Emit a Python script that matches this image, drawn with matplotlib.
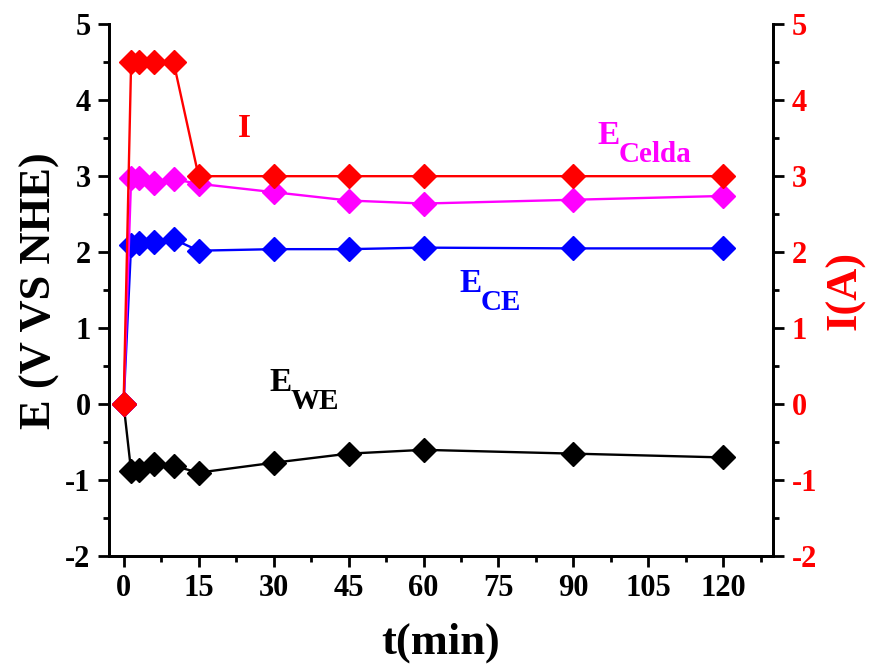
import matplotlib
matplotlib.use("Agg")
import matplotlib.pyplot as plt
from matplotlib.ticker import MultipleLocator

# ---- data ----
t_min = [0, 1.5, 3, 6, 10, 15, 30, 45, 60, 90, 120]
E_WE = [0, -0.88, -0.87, -0.78, -0.81, -0.90, -0.77, -0.65, -0.60, -0.65, -0.70]
E_CE = [0, 2.10, 2.12, 2.14, 2.17, 2.02, 2.04, 2.04, 2.06, 2.05, 2.05]
E_Celda = [0, 2.98, 2.98, 2.91, 2.96, 2.90, 2.79, 2.68, 2.64, 2.69, 2.74]
I_A = [0, 4.5, 4.5, 4.5, 4.5, 3.0, 3.0, 3.0, 3.0, 3.0, 3.0]

x_ticks = [0, 15, 30, 45, 60, 75, 90, 105, 120]
y_ticks = [-2, -1, 0, 1, 2, 3, 4, 5]

plt.rcParams['font.family'] = ['Liberation Serif', 'DejaVu Serif']
plt.rcParams['font.weight'] = 'bold'
plt.rcParams['axes.unicode_minus'] = False

fig = plt.figure(figsize=(8.69, 6.71), dpi=100)
ax = fig.add_axes([0.125, 0.171, 0.765, 0.793])
ax2 = ax.twinx()

lw = 1.7
ms = 12.5
ax.plot(t_min, E_WE, color='black', marker='D', ms=ms, lw=lw, zorder=3)
ax.plot(t_min, E_CE, color='#0000ff', marker='D', ms=ms, lw=lw, zorder=4)
ax.plot(t_min, E_Celda, color='#ff00ff', marker='D', ms=ms, lw=lw, zorder=5)
ax2.plot(t_min, I_A, color='#ff0000', marker='D', ms=ms, lw=lw, zorder=6)

for a in (ax, ax2):
    a.set_xlim(-3, 130)
    a.set_ylim(-2, 5)
    a.spines['top'].set_visible(False)
    for s in a.spines.values():
        s.set_linewidth(2)

ax.set_xticks(x_ticks)
ax.xaxis.set_minor_locator(MultipleLocator(7.5))
ax.set_yticks(y_ticks)
ax.yaxis.set_minor_locator(MultipleLocator(0.5))
ax2.set_yticks(y_ticks)
ax2.yaxis.set_minor_locator(MultipleLocator(0.5))

ax.tick_params(axis='both', which='major', direction='out', length=8, width=2, labelsize=22, pad=5)
ax.tick_params(axis='both', which='minor', direction='out', length=4.5, width=2)
ax2.tick_params(axis='y', which='major', direction='out', length=8, width=2, labelsize=22, labelcolor='#ff0000', pad=5)
ax2.tick_params(axis='y', which='minor', direction='out', length=4.5, width=2)
ax.set_zorder(ax2.get_zorder() - 1)
ax2.patch.set_visible(False)

for lab in ax.get_xticklabels() + ax.get_yticklabels() + ax2.get_yticklabels():
    lab.set_fontweight('bold')

ax.set_xlabel('t(min)', fontsize=32, fontweight='bold', labelpad=14)
ax.set_ylabel('E (V VS NHE)', fontsize=32, fontweight='bold', labelpad=4)
ax2.set_ylabel('I(A)', fontsize=32, fontweight='bold', color='#ff0000', labelpad=6)

# ---- labels with subscripts ----
fig.canvas.draw()
renderer = fig.canvas.get_renderer()

def label(x, y, main, sub, color):
    t = ax2.text(x, y, main, fontsize=24, fontweight='bold', color=color, zorder=10)
    if sub:
        bb = t.get_window_extent(renderer)
        fig.text(bb.x1 - 1, bb.y0 - 11, sub, fontsize=21, fontweight='bold', color=color,
                 transform=None, ha='left', va='baseline')

label(22.8, 3.52, 'I', None, '#ff0000')
label(94.8, 3.42, 'E', 'Celda', '#ff00ff')
label(67.2, 1.47, 'E', 'CE', '#0000ff')
label(29.2, 0.18, 'E', 'WE', 'black')

fig.savefig('out.png', dpi=100)
